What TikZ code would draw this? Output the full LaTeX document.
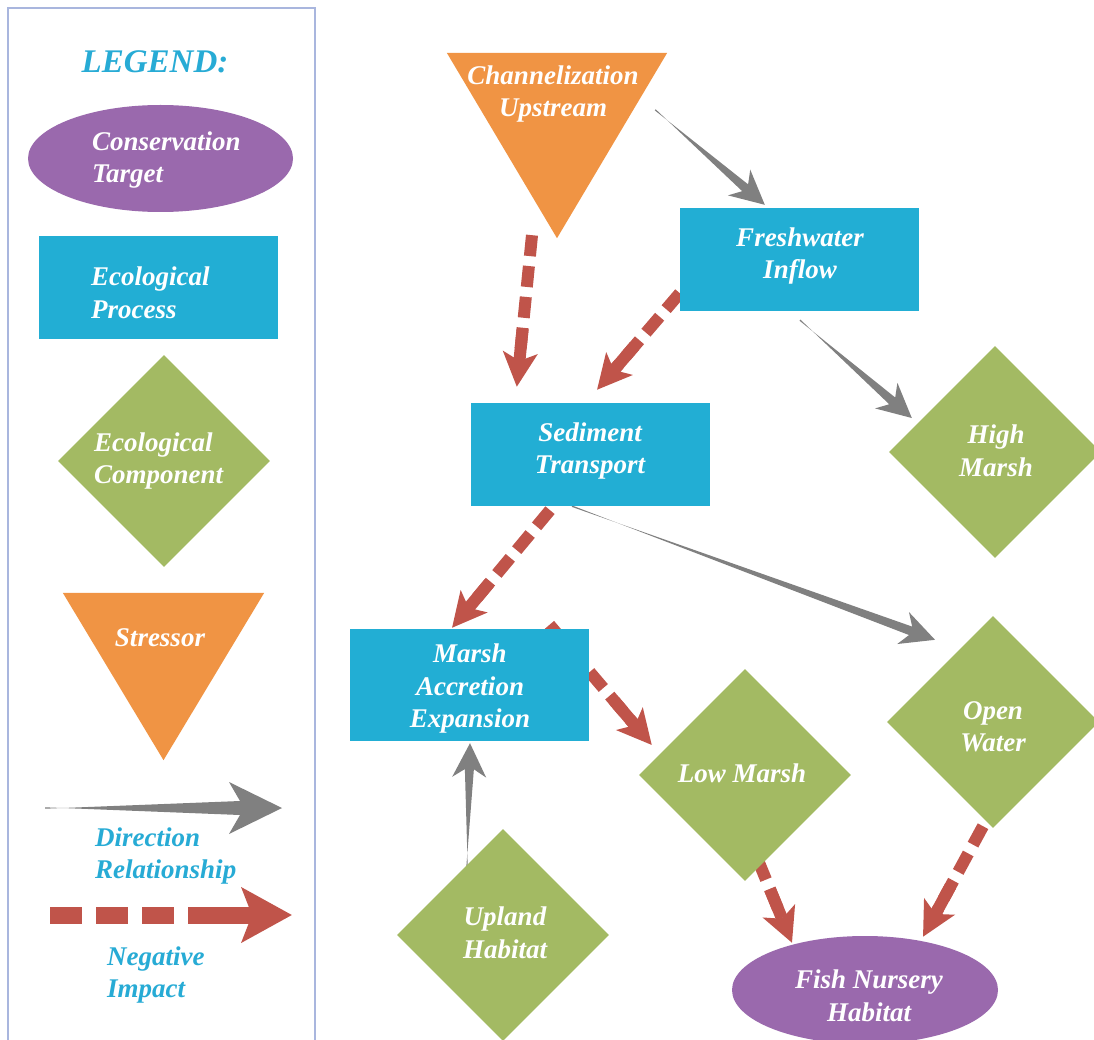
\documentclass[tikz,border=0pt]{standalone}
\usepackage{fontspec}
\setmainfont{Liberation Serif}
\usetikzlibrary{shapes.geometric,calc,arrows.meta,backgrounds}
\definecolor{cproc}{HTML}{22AED4}
\definecolor{ctarget}{HTML}{9A69AD}
\definecolor{ccomp}{HTML}{A3BA63}
\definecolor{cstress}{HTML}{F09444}
\definecolor{cgray}{HTML}{808080}
\definecolor{cred}{HTML}{C0544A}
\definecolor{clegtext}{HTML}{27ABD5}
\definecolor{cframe}{HTML}{A9B6DE}
\tikzset{
  lblfont/.style={font=\fontsize{27}{32.5}\selectfont\bfseries\itshape},
  lbl/.style={lblfont, text=white, align=center, inner sep=0pt},
  leglbl/.style={lblfont, text=white, align=left, anchor=west, inner sep=0pt},
  legtxt/.style={lblfont, text=clegtext, align=left, anchor=west, inner sep=0pt},
  procbox/.style={rectangle, fill=cproc, inner sep=0pt},
  target/.style={ellipse, fill=ctarget, inner sep=0pt},
  comp/.style={diamond, fill=ccomp, inner sep=0pt, minimum width=212pt, minimum height=212pt},
  stressbox/.style={rectangle, inner sep=0pt},
  negarrow/.style={draw=cred, line width=12pt, dash pattern=on 21pt off 10pt,
    -{Stealth[length=34pt, width=34pt, inset=8pt]}},
  negsolid/.style={draw=cred, line width=12pt},
  legdash/.style={draw=cred, line width=17pt, dash pattern=on 32pt off 14pt},
  legneg/.style={draw=cred, line width=17pt,
    -{Stealth[length=50pt, width=54pt, inset=10pt]}},
}
% tapered gray arrow: #1 start, #2 tip, #3 neck dist, #4 barb dist, #5 neck half width, #6 barb half width
\newcommand\taperarrow[6]{%
  \coordinate (tpN) at ($(#2)!#3!(#1)$);
  \coordinate (tpB) at ($(#2)!#4!(#1)$);
  \fill[cgray] ($(#1)!0.7pt!90:(#2)$) -- ($(tpN)!#5!-90:(#2)$) -- ($(tpB)!#6!-90:(#2)$) -- (#2)
    -- ($(tpB)!#6!90:(#2)$) -- ($(tpN)!#5!90:(#2)$) -- ($(#1)!0.7pt!-90:(#2)$) -- cycle;
}
% dashed red arrow with a solid run before the head: #1 start, #2 tip
\newcommand\negimpact[2]{%
  \draw[negarrow] (#1) -- (#2);
  \draw[negsolid] ($(#2)!58pt!(#1)$) -- ($(#2)!27pt!(#1)$);
}
\begin{document}
\begin{tikzpicture}[x=1pt, y=-1pt]
\useasboundingbox (0,0) rectangle (1094,1040);

% ---------- legend ----------
\draw[cframe, line width=2pt] (8,1045) -- (8,8) -- (315,8) -- (315,1045);
\node (legtitle) [font=\fontsize{33}{36}\selectfont\bfseries\itshape, text=clegtext, inner sep=0pt] at (155,62) {LEGEND:};
\node (legell) [target, minimum width=265pt, minimum height=107pt] at (160.5,158.5) {};
\node (legellt) [leglbl] at (92,160) {Conservation\\Target};
\node (legbox) [procbox, minimum width=239pt, minimum height=103pt] at (158.5,287.5) {};
\node (legboxt) [leglbl] at (91,293) {Ecological\\Process};
\node (legdia) [comp] at (164,461) {};
\node (legdiat) [leglbl] at (94,461) {Ecological\\Component};
\node (legtri) [stressbox, minimum width=201pt, minimum height=167pt] at (163.5,676.5) {};
\fill[cstress] (legtri.north west) -- (legtri.north east) -- (legtri.south) -- cycle;
\node (legtrit) [lbl] at (160,638) {Stressor};
\coordinate (lgA) at (45,808);
\coordinate (lgB) at (282,808);
\taperarrow{lgA}{lgB}{42pt}{53pt}{7pt}{26pt}
\node (legdirt) [legtxt] at (95,856) {Direction\\Relationship};
\coordinate (lrA) at (50,915);
\coordinate (lrM) at (174,915);
\coordinate (lrN) at (188,915);
\coordinate (lrB) at (292,915);
\draw[legdash] (lrA) -- (lrM);
\draw[legneg] (lrN) -- (lrB);
\node (legnegt) [legtxt] at (107,975) {Negative\\Impact};

% ---------- main nodes ----------
\node (chan) [stressbox, minimum width=220pt, minimum height=185pt] at (557,145.5) {};
\fill[cstress] (chan.north west) -- (chan.north east) -- (chan.south) -- cycle;
\node (chant) [lbl] at (553,94) {Channelization\\Upstream};
\node (fresh) [procbox, lbl, minimum width=239pt, minimum height=103pt] at (799.5,259.5) {};
\node (fresht) [lbl] at (800,256) {Freshwater\\Inflow};
\node (sed) [procbox, lbl, minimum width=239pt, minimum height=103pt] at (590.5,454.5) {};
\node (sedt) [lbl] at (590,451) {Sediment\\Transport};
\node (highm) [comp, lbl] at (995,452) {};
\node (highmt) [lbl] at (996,451) {High\\Marsh};
\node (marsh) [procbox, lbl, minimum width=239pt, minimum height=112pt] at (469.5,685) {};
\node (marsht) [lbl] at (470,689) {Marsh\\Accretion\\Expansion};
\node (lowm) [comp, lbl] at (745,775) {};
\node (lowmt) [lbl] at (742,773) {Low Marsh};
\node (openw) [comp, lbl] at (993,722) {};
\node (openwt) [lbl] at (993,727) {Open\\Water};
\node (upland) [comp, lbl] at (503,935) {};
\node (uplandt) [lbl] at (505,933) {Upland\\Habitat};
\node (fish) [target, lbl, minimum width=266pt, minimum height=108pt] at (865,990) {};
\node (fisht) [lbl] at (869,996) {Fish Nursery\\Habitat};

% ---------- connectors ----------
\begin{scope}[on background layer]
  \fill[white] (0,0) rectangle (1094,1040);
  % Channelization -> Freshwater
  \coordinate (a1s) at ($(chan.north east)+(-12,57)$);
  \coordinate (a1t) at ($(fresh.north west)+(85,-3)$);
  \taperarrow{a1s}{a1t}{26pt}{34pt}{4.5pt}{17pt}
  % Channelization -> Sediment
  \coordinate (a2s) at ($(chan.south)+(-25,-3)$);
  \coordinate (a2t) at ($(sed.north west)+(46,-16)$);
  \negimpact{a2s}{a2t}
  % Freshwater -> Sediment
  \coordinate (a3s) at ($(fresh.south west)+(0,-18)$);
  \coordinate (a3t) at ($(sed.north)+(6.5,-13)$);
  \negimpact{a3s}{a3t}
  % Freshwater -> High Marsh
  \coordinate (a4s) at ($(fresh.south)+(0.5,9)$);
  \coordinate (a4t) at ($(highm.west)+(23,-34)$);
  \taperarrow{a4s}{a4t}{26pt}{34pt}{4.5pt}{17pt}
  % Sediment -> Open Water
  \coordinate (a5s) at ($(sed.south)+(-18.5,0)$);
  \coordinate (a5t) at ($(openw.north)+(-58,24)$);
  \taperarrow{a5s}{a5t}{26pt}{34pt}{4.5pt}{17pt}
  % Sediment -> Marsh Accretion
  \coordinate (a6s) at ($(sed.south)+(-40.5,4)$);
  \coordinate (a6t) at ($(marsh.north)+(-17.5,-1)$);
  \negimpact{a6s}{a6t}
  % Marsh Accretion -> Low Marsh
  \coordinate (a7s) at ($(marsh.north)+(80,-4)$);
  \coordinate (a7t) at ($(lowm.west)+(13,-30)$);
  \negimpact{a7s}{a7t}
  % Upland -> Marsh Accretion
  \coordinate (a8s) at ($(upland.north)+(-36,38)$);
  \coordinate (a8t) at ($(marsh.south)+(0.5,2)$);
  \taperarrow{a8s}{a8t}{26pt}{34pt}{4.5pt}{17pt}
  % Low Marsh -> Fish
  \coordinate (a9s) at ($(lowm.south)+(13,-21)$);
  \coordinate (a9t) at ($(fish.north)+(-73,7)$);
  \negimpact{a9s}{a9t}
  % Open Water -> Fish
  \coordinate (a10s) at ($(openw.south)+(-10,-2)$);
  \coordinate (a10t) at ($(fish.north)+(58,1)$);
  \negimpact{a10s}{a10t}
\end{scope}
\end{tikzpicture}
\end{document}
